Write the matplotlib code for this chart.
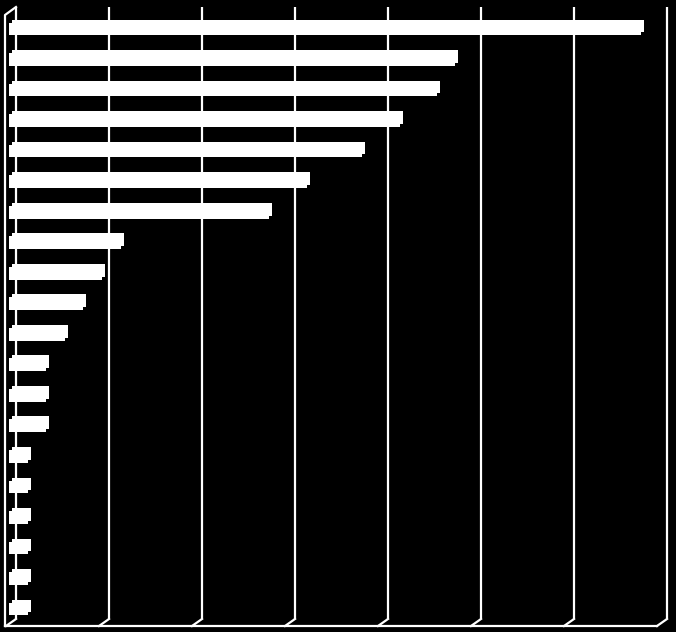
import matplotlib
matplotlib.use("Agg")
import matplotlib.pyplot as plt
import matplotlib.transforms as mtransforms
import numpy as np

# one bar per category, top to bottom (no labels shown in the chart)
categories = [f"cat{i + 1}" for i in range(20)]
values = [34, 24, 23, 21, 19, 16, 14, 6, 5, 4, 3, 2, 2, 2, 1, 1, 1, 1, 1, 1]
x_ticks = [0, 5, 10, 15, 20, 25, 30, 35]

W, H = 676, 632
fig = plt.figure(figsize=(W / 100, H / 100), dpi=100, facecolor="black")

# plot area (front plane of the bars), in pixels from top-left
left_px, right_px = 9, 660
top_px, bot_px = 13.7, 624.3
ax = fig.add_axes([left_px / W, (H - bot_px) / H,
                   (right_px - left_px) / W, (bot_px - top_px) / H])
ax.set_facecolor("none")
ax.set_xlim(0, 35)
ax.set_ylim(len(categories) - 0.5, -0.5)
ax.axis("off")

y = np.arange(len(categories))
h = 0.42

# 3D look: front face plus a face shifted back (right/up) by a few pixels
ax.barh(y, values, height=h, color="white", linewidth=0, zorder=3)
back = mtransforms.offset_copy(ax.transData, fig=fig, x=3, y=3, units="dots")
ax.barh(y, values, height=h, color="white", linewidth=0, zorder=4,
        transform=back)

# pixel transform (top-left origin) for the walls / floor
pix = mtransforms.Affine2D().scale(1, -1).translate(0, H)
lw = 1.6
depth_x, depth_y = 10, 7
back_top, back_bot = 7, 619

for t in x_ticks:
    xp = ax.transData.transform((t, 0))[0] + 7  # back wall position
    ax.plot([xp, xp], [back_top, back_bot], color="white", lw=lw,
            transform=pix, zorder=1, solid_capstyle="butt")
    ax.plot([xp, xp - depth_x], [back_bot, back_bot + depth_y],
            color="white", lw=lw, transform=pix, zorder=1)

x0 = ax.transData.transform((x_ticks[0], 0))[0] + 7
x1 = ax.transData.transform((x_ticks[-1], 0))[0] + 7
# floor front edge
ax.plot([x0 - depth_x - 1, x1 - depth_x], [back_bot + depth_y] * 2,
        color="white", lw=lw, transform=pix, zorder=1)
# left wall front edge
ax.plot([x0, x0 - depth_x - 1, x0 - depth_x - 1],
        [back_top, back_top + depth_y + 1, back_bot + depth_y],
        color="white", lw=lw, transform=pix, zorder=5)

for a in fig.axes:
    for line in a.lines:
        line.set_clip_on(False)

fig.savefig("out.png", dpi=100, facecolor="black")
